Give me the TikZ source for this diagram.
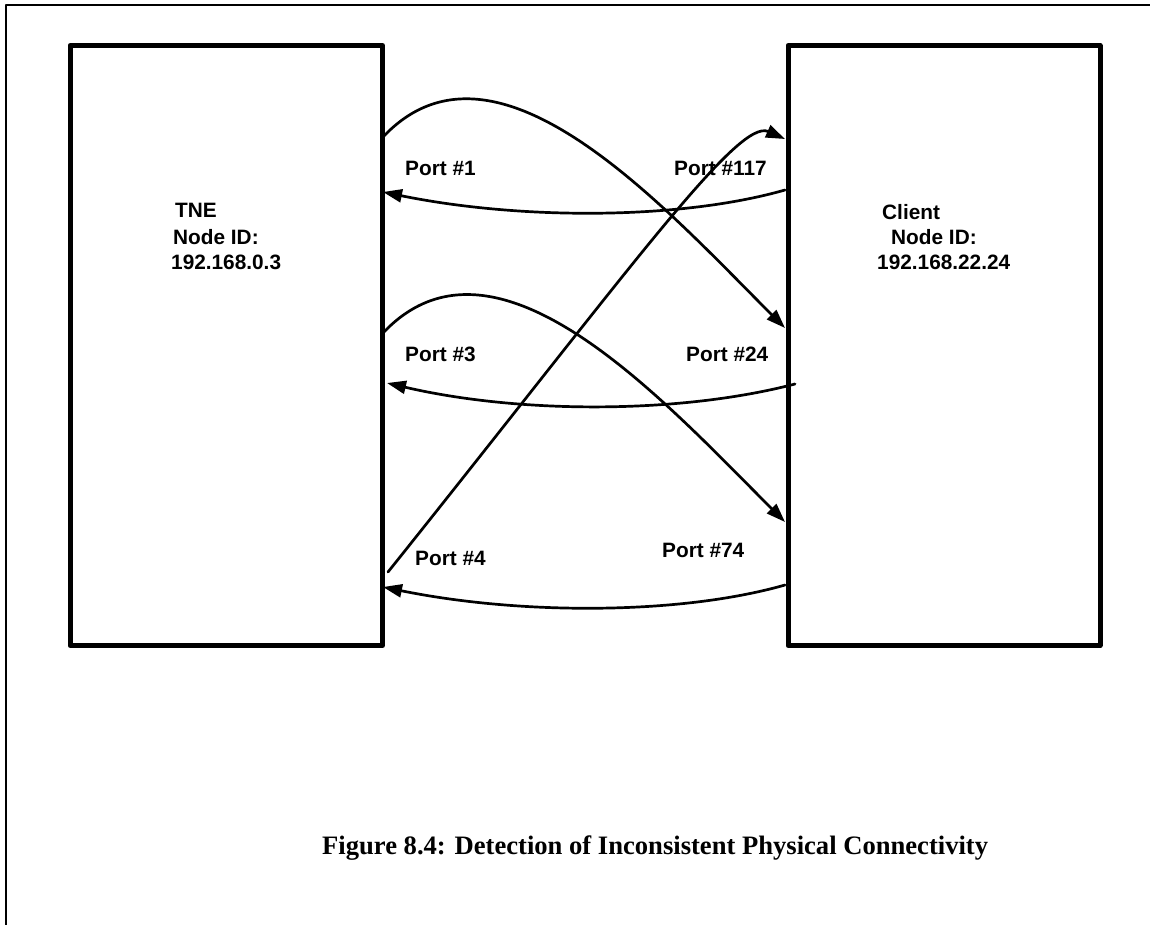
\documentclass[tikz,border=0pt]{standalone}
\usepackage{fontspec}
\setmainfont{Liberation Sans}
\newfontfamily\capfont{Liberation Serif}
\usetikzlibrary{arrows.meta}

\tikzset{
    box/.style={draw, line width=5pt, inner sep=0pt},
    lbl/.style={anchor=west, inner sep=0pt, font=\bfseries\fontsize{20.8}{24}\selectfont},
    link/.style={line width=2.7pt, -{Triangle[length=19pt,width=13pt]}}
}

\begin{document}
\begin{tikzpicture}[x=1pt, y=-1pt, line cap=round, line join=round]
    \useasboundingbox (0,0) rectangle (1150,925);

    % Frame
    \draw[line width=1.3pt] (6,925) -- (6,5) -- (1150,5);

    % Boxes
    \node[box, minimum width=312.5pt, minimum height=600pt] (tne) at (226.25,345.5) {};
    \node[box, minimum width=312pt, minimum height=600pt] (client) at (944,345.5) {};

    % Node text
    \node[lbl] (tneA) at (175,210) {TNE};
    \node[lbl] (tneB) at (173,237) {Node ID:};
    \node[lbl] (tneC) at (171,262) {192.168.0.3};
    \node[lbl] (cliA) at (882,212) {Client};
    \node[lbl] (cliB) at (891,237) {Node ID:};
    \node[lbl] (cliC) at (877,262) {192.168.22.24};

    % Port labels
    \foreach \n/\x/\y/\t in {pa/405/168/1, pb/674/168/117, pc/405/354/3,
                             pd/686/354/24, pe/415/558/4, pf/662/550/74}{
        \node[lbl] (\n) at (\x,\y) {Port \#\t};
    }

    % Port points
    \coordinate (t1o) at (383,137);  \coordinate (t1i) at (383,192);
    \coordinate (t3o) at (383,333);  \coordinate (t3i) at (387,383);
    \coordinate (t4o) at (388,572);  \coordinate (t4i) at (383,587);
    \coordinate (c117i) at (785,139); \coordinate (c117o) at (785,190);
    \coordinate (c24i) at (785,328);  \coordinate (c24o) at (795,384);
    \coordinate (c74i) at (785,522);  \coordinate (c74o) at (785,585);

    % Links TNE -> Client
    \draw[link] (t1o) .. controls (495,18) and (662,205) .. (c24i);
    \draw[link] (t3o) .. controls (495,214) and (662,399) .. (c74i);
    \draw[link] (t4o) .. controls (628,272) and (738,118) .. (c117i);

    % Links Client -> TNE
    \draw[link] (c117o) .. controls (680,220) and (520,220) .. (t1i);
    \draw[link] (c24o) .. controls (680,414) and (520,414) .. (t3i);
    \draw[link] (c74o) .. controls (680,615) and (520,615) .. (t4i);

    % Caption
    \node[anchor=west, inner sep=0pt, font=\capfont\bfseries\fontsize{26.6}{30}\selectfont]
        (cap) at (322,848) {Figure 8.4: Detection of Inconsistent Physical Connectivity};
\end{tikzpicture}
\end{document}
